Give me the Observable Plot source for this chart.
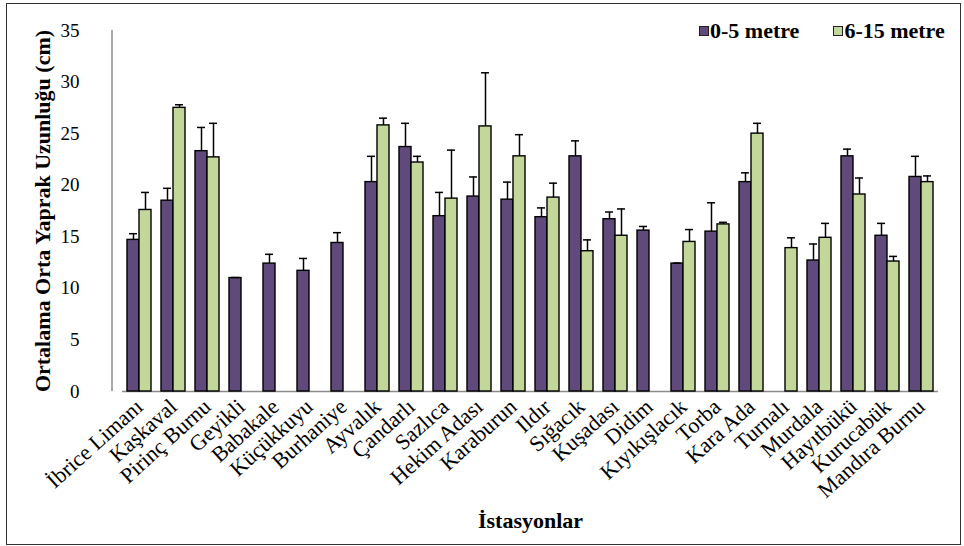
<!DOCTYPE html>
<html><head><meta charset="utf-8">
<script src="https://cdn.jsdelivr.net/npm/d3@7"></script>
<script src="https://cdn.jsdelivr.net/npm/@observablehq/plot@0.6"></script>
<style>
body{margin:0;background:#fff;}
#wrap{position:relative;width:964px;height:546px;font-family:"Liberation Serif","Times New Roman",serif;overflow:hidden;}
#frame{position:absolute;left:6px;top:3px;width:955px;height:542px;border:1.5px solid #333;box-sizing:border-box;pointer-events:none;}
#legend{position:absolute;left:699px;top:19px;display:flex;align-items:center;font-weight:bold;font-size:22px;color:#000;line-height:24px;white-space:nowrap;width:260px;}
#legend .item{display:flex;align-items:center;margin-right:34px;white-space:nowrap;flex:none;}
#legend .sw{width:8px;height:8px;border:1px solid #222;margin-right:1px;flex:none;}
[aria-label="y-axis label"] text{font-weight:bold;font-size:22px;}
[aria-label="fx-axis label"] text{font-weight:bold;font-size:22px;}
</style>
</head><body>
<div id="wrap"><div id="frame"></div><div id="legend"></div></div>
<script>
const stations = ["İbrice Limanı","Kaşkaval","Pirinç Burnu","Geyikli","Babakale","Küçükkuyu","Burhaniye","Ayvalık","Çandarlı","Sazlıca","Hekim Adası","Karaburun","Ildır","Sığacık","Kuşadası","Didim","Kıyıkışlacık","Torba","Kara Ada","Turnalı","Murdala","Hayıtbükü","Kurucabük","Mandıra Burnu"];
const depths = ["0-5 metre","6-15 metre"];
const colors = ["#604A7B","#C4D79B"];
const shallow = [14.7,18.5,23.3,11.0,12.4,11.7,14.4,20.3,23.7,17.0,18.9,18.6,16.9,22.8,16.7,15.6,12.4,15.5,20.3,null,12.7,22.8,15.1,20.8];
const shallowSd = [0.6,1.2,2.3,0.05,0.9,1.2,1.0,2.5,2.3,2.3,1.9,1.7,0.9,1.5,0.7,0.4,0.05,2.8,0.9,null,1.6,0.7,1.2,2.0];
const deep = [17.6,27.5,22.7,null,null,null,null,25.8,22.2,18.7,25.7,22.8,18.8,13.6,15.1,null,14.5,16.2,25.0,13.9,14.9,19.1,12.6,20.3];
const deepSd = [1.7,0.3,3.3,null,null,null,null,0.7,0.6,4.7,5.2,2.1,1.4,1.1,2.6,null,1.2,0.2,1.0,1.0,1.4,1.6,0.5,0.6];
const yTicks = [0,5,10,15,20,25,30,35];
const yTitle = "Ortalama Orta Yaprak Uzunluğu (cm)";
const xTitle = "İstasyonlar";

const rows = [];
stations.forEach((s,i)=>{
  if (shallow[i]!=null) rows.push({station:s, depth:depths[0], value:shallow[i], sd:shallowSd[i]});
  if (deep[i]!=null) rows.push({station:s, depth:depths[1], value:deep[i], sd:deepSd[i]});
});

const chart = Plot.plot({
  width: 964, height: 546,
  marginLeft: 112, marginRight: 16, marginTop: 30, marginBottom: 155,
  style: {fontFamily: "Liberation Serif", fontSize: "17px", color: "#000", background: "transparent", overflow: "visible"},
  fx: {domain: stations, padding: 0},
  x: {domain: depths, paddingInner: 0, paddingOuter: 0.34, axis: null},
  y: {domain: [0, 35]},
  color: {domain: depths, range: colors},
  marks: [
    Plot.axisY({ticks: yTicks, tickSize: 0, tickPadding: 28, dx: -15, fontSize: 19, label: yTitle, labelAnchor: "center", labelOffset: 88, labelArrow: false}),
    Plot.axisFx({anchor: "bottom", tickRotate: -42, tickSize: 0, tickPadding: 12, fontSize: 22, label: xTitle, labelAnchor: "center", labelOffset: 136, labelArrow: false}),
    Plot.ruleY([0], {stroke: "#8c8c8c", strokeWidth: 1.5}),
    Plot.barY(rows, {fx: "station", x: "depth", y: "value", fill: "depth", stroke: "#000", strokeWidth: 1.4}),
    Plot.ruleX(rows, {fx: "station", x: "depth", y1: "value", y2: d => d.value + d.sd, stroke: "#000", strokeWidth: 1.5}),
    Plot.tickY(rows, {fx: "station", x: "depth", y: d => d.value + d.sd, insetLeft: 2, insetRight: 2, stroke: "#000", strokeWidth: 1.5})
  ]
});
// y-axis line from the library's y scale range
const yr = chart.scale("y").range;
d3.select(chart).append("line")
  .attr("x1", 112).attr("x2", 112).attr("y1", yr[0]).attr("y2", yr[1])
  .attr("stroke", "#8c8c8c").attr("stroke-width", 1.5);
chart.style.position = "absolute"; chart.style.left = "0"; chart.style.top = "0";
document.getElementById("wrap").prepend(chart);

const leg = document.getElementById("legend");
depths.forEach((d,i)=>{
  const it = document.createElement("div"); it.className = "item";
  const sw = document.createElement("div"); sw.className = "sw"; sw.style.background = colors[i];
  const t = document.createElement("span"); t.textContent = d;
  it.appendChild(sw); it.appendChild(t); leg.appendChild(it);
});
</script>
</body></html>
